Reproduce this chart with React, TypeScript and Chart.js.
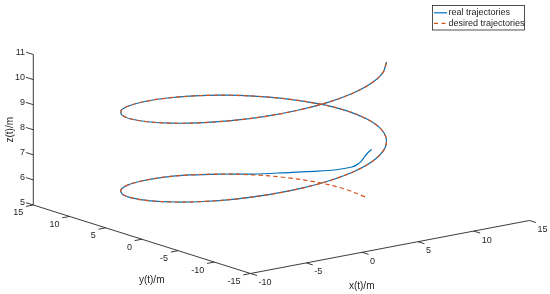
import { useEffect, useRef } from "react";
import { Chart, registerables } from "chart.js";

Chart.register(...registerables);

// ---- axis ticks ----
const xTicks = [-10, -5, 0, 5, 10, 15];
const yTicks = [15, 10, 5, 0, -5, -10, -15];
const zTicks = [5, 6, 7, 8, 9, 10, 11];

// ---- desired trajectory samples ----
const desiredX = [10.0, 9.69, 8.78, 7.32, 5.4, 3.15, 0.71, -1.78, -4.16, -6.28, -8.01, -9.24, -9.9, -9.94, -9.36, -8.21, -6.54, -4.46, -2.11, 0.38, 2.84, 5.12, 7.09, 8.61, 9.6, 9.99, 9.77, 8.93, 7.54, 5.66, 3.47, 1.05, -1.46, -3.88, -6.02, -7.77, -9.11, -9.85, -9.97, -9.48, -8.39, -6.8, -4.76, -2.43, 0.04, 2.51, 4.83, 6.89, 8.44];
const desiredY = [0.0, 2.47, 4.79, 6.82, 8.41, 9.49, 9.97, 9.84, 9.09, 7.78, 5.98, 3.82, 1.41, -1.08, -3.51, -5.72, -7.57, -8.95, -9.78, -9.99, -9.59, -8.59, -7.06, -5.08, -2.79, -0.33, 2.15, 4.5, 6.57, 8.24, 9.38, 9.94, 9.89, 9.22, 7.98, 6.3, 4.12, 1.74, -0.75, -3.19, -5.44, -7.34, -8.8, -9.7, -10.0, -9.68, -8.76, -7.25, -5.37];
const desiredZ = [5.0, 5.125, 5.25, 5.375, 5.5, 5.625, 5.75, 5.875, 6.0, 6.125, 6.25, 6.375, 6.5, 6.625, 6.75, 6.875, 7.0, 7.125, 7.25, 7.375, 7.5, 7.625, 7.75, 7.875, 8.0, 8.125, 8.25, 8.375, 8.5, 8.625, 8.75, 8.875, 9.0, 9.125, 9.25, 9.375, 9.5, 9.625, 9.75, 9.875, 10.0, 10.125, 10.25, 10.375, 10.5, 10.625, 10.75, 10.875, 11.0];

// ---- real trajectory: start transient, then it follows the desired samples ----
const realStartX = [10.59, 10.63, 10.64, 10.65, 10.62, 10.51, 9.91, 9.02, 7.73, 5.4];
const realStartY = [0.0, 0.5, 1.0, 1.5, 2.0, 2.6, 3.6, 5.0, 6.6, 8.41];
const realStartZ = [6.84, 6.69, 6.48, 6.24, 6.06, 5.91, 5.77, 5.65, 5.57, 5.53];
const MERGE_INDEX = 5;
const realX = [...realStartX, ...desiredX.slice(MERGE_INDEX)];
const realY = [...realStartY, ...desiredY.slice(MERGE_INDEX)];
const realZ = [...realStartZ, ...desiredZ.slice(MERGE_INDEX)];

const legendLabels = ["real trajectories", "desired trajectories"];
const axisTitles = { x: "x(t)/m", y: "y(t)/m", z: "z(t)/m" };

// ---- view (orthographic projection onto the drawing plane) ----
const X_MIN = xTicks[0];
const X_MAX = xTicks[xTicks.length - 1];
const Y_MAX = yTicks[0];
const Y_MIN = yTicks[yTicks.length - 1];
const Z_MIN = zTicks[0];
const Z_MAX = zTicks[zTicks.length - 1];
const VIEW = {
  ox: 33.3, oy: 205,
  exX: 11.16, exY: -2.12,
  eyX: 7.24, eyY: 2.283,
  ezY: -25.08,
};
const PLANE_W = 550;
const PLANE_H = 294;

function proj(x: number, y: number, z: number) {
  const a = x - X_MIN;
  const b = Y_MAX - y;
  const c = z - Z_MIN;
  return {
    x: VIEW.ox + a * VIEW.exX + b * VIEW.eyX,
    y: VIEW.oy + a * VIEW.exY + b * VIEW.eyY + c * VIEW.ezY,
  };
}

const BLUE = "#0072BD";
const ORANGE = "#D95319";
const AXIS = "#262626";
const FONT = '"Liberation Sans", Arial, Helvetica, sans-serif';

export default function App() {
  const ref = useRef<HTMLCanvasElement | null>(null);

  useEffect(() => {
    document.body.style.margin = "0";
    const canvas = ref.current;
    if (!canvas) return;

    const desiredPts = desiredX.map((v, i) => proj(v, desiredY[i], desiredZ[i]));
    const realPts = realX.map((v, i) => proj(v, realY[i], realZ[i]));

    const seg = (a: { x: number; y: number }, b: { x: number; y: number }) => ({
      data: [a, b],
      borderColor: AXIS,
      borderWidth: 0.9,
      pointRadius: 0,
      tension: 0,
      fill: false,
    });

    const axisSets: any[] = [];
    axisSets.push(seg(proj(X_MIN, Y_MAX, Z_MIN), proj(X_MIN, Y_MAX, Z_MAX)));
    axisSets.push(seg(proj(X_MIN, Y_MAX, Z_MIN), proj(X_MIN, Y_MIN, Z_MIN)));
    axisSets.push(seg(proj(X_MIN, Y_MIN, Z_MIN), proj(X_MAX, Y_MIN, Z_MIN)));
    zTicks.forEach((z) => axisSets.push(seg(proj(X_MIN, Y_MAX, z), proj(X_MIN, Y_MAX + 1.0, z))));
    yTicks.forEach((y) => axisSets.push(seg(proj(X_MIN, y, Z_MIN), proj(X_MIN - 0.65, y, Z_MIN))));
    xTicks.forEach((x) => axisSets.push(seg(proj(x, Y_MIN, Z_MIN), proj(x, Y_MIN - 0.9, Z_MIN))));

    const textPlugin = {
      id: "labels3d",
      afterDraw(chart: any) {
        const ctx = chart.ctx as CanvasRenderingContext2D;
        const sx = chart.scales.x;
        const sy = chart.scales.y;
        const px = (v: number) => sx.getPixelForValue(v);
        const py = (v: number) => sy.getPixelForValue(v);
        ctx.save();
        ctx.fillStyle = AXIS;
        ctx.font = `9px ${FONT}`;
        // z tick labels
        ctx.textAlign = "right";
        ctx.textBaseline = "middle";
        zTicks.forEach((z) => {
          const p = proj(X_MIN, Y_MAX + 1.15, z);
          ctx.fillText(String(z), px(p.x), py(p.y + 0.6));
        });
        // y tick labels
        yTicks.forEach((y) => {
          const p = proj(X_MIN, y, Z_MIN);
          ctx.fillText(String(y), px(p.x - 10), py(p.y + 8));
        });
        // x tick labels
        ctx.textAlign = "left";
        xTicks.forEach((x) => {
          const p = proj(x, Y_MIN, Z_MIN);
          ctx.fillText(String(x), px(p.x + 8), py(p.y + 9));
        });
        // axis titles
        ctx.font = `10px ${FONT}`;
        ctx.textAlign = "center";
        const xm = proj((X_MIN + X_MAX) / 2, Y_MIN, Z_MIN);
        ctx.fillText(axisTitles.x, px(xm.x - 28.3), py(xm.y + 39));
        const ym = proj(X_MIN, (Y_MIN + Y_MAX) / 2, Z_MIN);
        ctx.fillText(axisTitles.y, px(ym.x + 9.8), py(ym.y + 41.3));
        const zm = proj(X_MIN, Y_MAX, (Z_MIN + Z_MAX) / 2);
        ctx.save();
        ctx.translate(px(zm.x - 23.3), py(zm.y));
        ctx.rotate(-Math.PI / 2);
        ctx.fillText(axisTitles.z, 0, 0);
        ctx.restore();

        // legend box
        const bx = px(432.5), by = py(5.5), bw = px(524.5) - bx, bh = py(30) - by;
        ctx.fillStyle = "#ffffff";
        ctx.fillRect(bx, by, bw, bh);
        ctx.strokeStyle = AXIS;
        ctx.lineWidth = 0.8;
        ctx.strokeRect(bx, by, bw, bh);
        const rows = [12.8, 23.4];
        const colors = [BLUE, ORANGE];
        const dashes = [[], [4, 3.5]];
        rows.forEach((ry, i) => {
          ctx.beginPath();
          ctx.setLineDash(dashes[i]);
          ctx.strokeStyle = colors[i];
          ctx.lineWidth = 1.2;
          ctx.moveTo(px(434), py(ry));
          ctx.lineTo(px(447), py(ry));
          ctx.stroke();
          ctx.setLineDash([]);
          ctx.fillStyle = AXIS;
          ctx.font = `9px ${FONT}`;
          ctx.textAlign = "left";
          ctx.textBaseline = "middle";
          ctx.fillText(legendLabels[i], px(448.5), py(ry));
        });
        ctx.restore();
      },
    };

    const chart = new Chart(canvas, {
      type: "line",
      data: {
        datasets: [
          {
            label: legendLabels[1],
            data: desiredPts,
            borderColor: ORANGE,
            borderWidth: 1.2,
            borderDash: [4.5, 3],
            pointRadius: 0,
            tension: 0.35,
            fill: false,
          },
          {
            label: legendLabels[0],
            data: realPts,
            borderColor: BLUE,
            borderWidth: 1.2,
            pointRadius: 0,
            tension: 0.35,
            fill: false,
          },
          ...axisSets,
        ],
      },
      options: {
        responsive: false,
        animation: false,
        devicePixelRatio: 1,
        layout: { padding: 0 },
        parsing: true,
        scales: {
          x: { type: "linear", display: false, min: 0, max: PLANE_W },
          y: { type: "linear", display: false, min: 0, max: PLANE_H, reverse: true },
        },
        plugins: {
          legend: { display: false },
          tooltip: { enabled: false },
        },
        elements: { point: { radius: 0 }, line: { capBezierPoints: false } },
      },
      plugins: [textPlugin],
    } as any);

    return () => chart.destroy();
  }, []);

  return (
    <div style={{ position: "absolute", left: 0, top: 0, width: 550, height: 294, background: "#fff" }}>
      <canvas ref={ref} width={550} height={294} style={{ display: "block" }} />
    </div>
  );
}
